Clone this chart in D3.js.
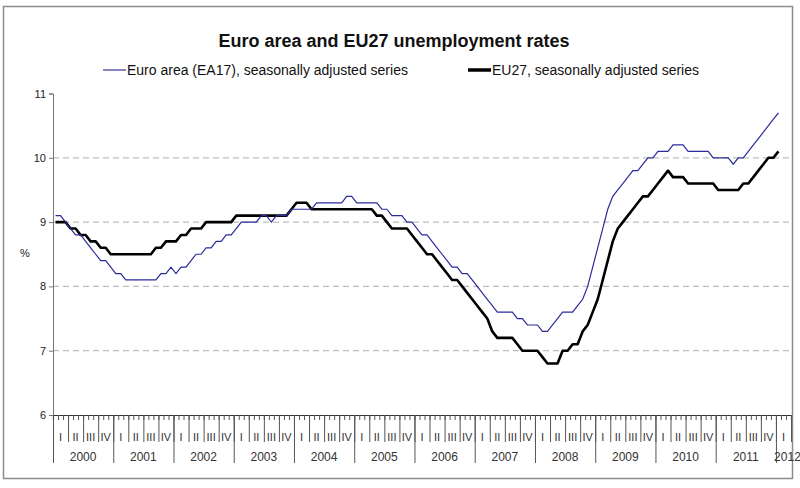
<!DOCTYPE html>
<html>
<head>
<meta charset="utf-8">
<script src="https://cdn.jsdelivr.net/npm/d3@7"></script>
<style>
  body { margin: 0; background: #fff; }
  svg { font-family: "Liberation Sans", Arial, sans-serif; }
</style>
</head>
<body>
<div id="chart"></div>
<script>
// monthly values, Jan 2000 .. Jan 2012
const ea17 = [
  9.1, 9.1, 9.0, 8.9, 8.8, 8.8, 8.7, 8.6, 8.5, 8.4,
  8.4, 8.3, 8.2, 8.2, 8.1, 8.1, 8.1, 8.1, 8.1, 8.1,
  8.1, 8.2, 8.2, 8.3, 8.2, 8.3, 8.3, 8.4, 8.5, 8.5,
  8.6, 8.6, 8.7, 8.7, 8.8, 8.8, 8.9, 9.0, 9.0, 9.0,
  9.0, 9.1, 9.1, 9.0, 9.1, 9.1, 9.1, 9.2, 9.2, 9.2,
  9.2, 9.2, 9.3, 9.3, 9.3, 9.3, 9.3, 9.3, 9.4, 9.4,
  9.3, 9.3, 9.3, 9.3, 9.3, 9.2, 9.2, 9.1, 9.1, 9.1,
  9.0, 9.0, 8.9, 8.8, 8.8, 8.7, 8.6, 8.5, 8.4, 8.3,
  8.3, 8.2, 8.2, 8.1, 8.0, 7.9, 7.8, 7.7, 7.6, 7.6,
  7.6, 7.6, 7.5, 7.5, 7.4, 7.4, 7.4, 7.3, 7.3, 7.4,
  7.5, 7.6, 7.6, 7.6, 7.7, 7.8, 8.0, 8.3, 8.6, 8.9,
  9.2, 9.4, 9.5, 9.6, 9.7, 9.8, 9.8, 9.9, 10.0, 10.0,
  10.1, 10.1, 10.1, 10.2, 10.2, 10.2, 10.1, 10.1, 10.1, 10.1,
  10.1, 10.0, 10.0, 10.0, 10.0, 9.9, 10.0, 10.0, 10.1, 10.2,
  10.3, 10.4, 10.5, 10.6, 10.7
];
const eu27 = [
  9.0, 9.0, 9.0, 8.9, 8.9, 8.8, 8.8, 8.7, 8.7, 8.6,
  8.6, 8.5, 8.5, 8.5, 8.5, 8.5, 8.5, 8.5, 8.5, 8.5,
  8.6, 8.6, 8.7, 8.7, 8.7, 8.8, 8.8, 8.9, 8.9, 8.9,
  9.0, 9.0, 9.0, 9.0, 9.0, 9.0, 9.1, 9.1, 9.1, 9.1,
  9.1, 9.1, 9.1, 9.1, 9.1, 9.1, 9.1, 9.2, 9.3, 9.3,
  9.3, 9.2, 9.2, 9.2, 9.2, 9.2, 9.2, 9.2, 9.2, 9.2,
  9.2, 9.2, 9.2, 9.2, 9.1, 9.1, 9.0, 8.9, 8.9, 8.9,
  8.9, 8.8, 8.7, 8.6, 8.5, 8.5, 8.4, 8.3, 8.2, 8.1,
  8.1, 8.0, 7.9, 7.8, 7.7, 7.6, 7.5, 7.3, 7.2, 7.2,
  7.2, 7.2, 7.1, 7.0, 7.0, 7.0, 7.0, 6.9, 6.8, 6.8,
  6.8, 7.0, 7.0, 7.1, 7.1, 7.3, 7.4, 7.6, 7.8, 8.1,
  8.4, 8.7, 8.9, 9.0, 9.1, 9.2, 9.3, 9.4, 9.4, 9.5,
  9.6, 9.7, 9.8, 9.7, 9.7, 9.7, 9.6, 9.6, 9.6, 9.6,
  9.6, 9.6, 9.5, 9.5, 9.5, 9.5, 9.5, 9.6, 9.6, 9.7,
  9.8, 9.9, 10.0, 10.0, 10.1
];
const years = [2000, 2001, 2002, 2003, 2004, 2005, 2006, 2007, 2008, 2009, 2010, 2011, 2012];
const quarterNames = ['I', 'II', 'III', 'IV'];
const yTicks = [6, 7, 8, 9, 10, 11];
const gridValues = [7, 8, 9, 10];
const seriesNames = ['Euro area (EA17), seasonally adjusted series', 'EU27, seasonally adjusted series'];

const width = 800, height = 488;
const totalMonths = 147; // up to end of 2012 Q1

const svg = d3.select('#chart').append('svg')
  .attr('width', width)
  .attr('height', height);

// frame
svg.append('rect')
  .attr('x', 3.5).attr('y', 6.5)
  .attr('width', 789).attr('height', 472)
  .attr('fill', 'none')
  .attr('stroke', '#8c8c8c')
  .attr('stroke-width', 1.5);

const x = d3.scaleLinear().domain([0, totalMonths]).range([53, 791]);
const y = d3.scaleLinear().domain([6, 11]).range([415, 93.5]);

// title
svg.append('text')
  .attr('x', 394).attr('y', 47)
  .attr('text-anchor', 'middle')
  .style('font-size', '18px')
  .style('font-weight', 'bold')
  .attr('fill', '#111')
  .text('Euro area and EU27 unemployment rates');

// legend
const legend = [
  {name: seriesNames[0], x: 103, color: '#8686bd', w: 2},
  {name: seriesNames[1], x: 468, color: '#000', w: 3.5}
];
legend.forEach(l => {
  svg.append('line')
    .attr('x1', l.x).attr('x2', l.x + 23)
    .attr('y1', 70).attr('y2', 70)
    .attr('stroke', l.color).attr('stroke-width', l.w);
  svg.append('text')
    .attr('x', l.x + 24).attr('y', 75)
    .style('font-size', '14px')
    .attr('fill', '#111')
    .text(l.name);
});

// gridlines
svg.append('g').selectAll('line')
  .data(gridValues).enter().append('line')
  .attr('x1', 53).attr('x2', 791)
  .attr('y1', d => y(d)).attr('y2', d => y(d))
  .attr('stroke', '#bdbdbd')
  .attr('stroke-width', 1.3)
  .attr('stroke-dasharray', '6,4');

// y axis
const yAxis = d3.axisLeft(y).tickValues(yTicks).tickSize(4).tickFormat(d3.format('d'));
const gy = svg.append('g')
  .attr('transform', 'translate(53,0)')
  .call(yAxis);
gy.select('.domain').attr('stroke', '#777');
gy.selectAll('.tick line').attr('stroke', '#777');
gy.selectAll('.tick text')
  .attr('x', -7)
  .style('font-size', '11px')
  .style('font-family', '"Liberation Sans", Arial, sans-serif')
  .attr('fill', '#222');

svg.append('text')
  .attr('x', 25).attr('y', 257)
  .attr('text-anchor', 'middle')
  .style('font-size', '11px')
  .attr('fill', '#222')
  .text('%');

// x axis: month ticks, quarter and year separators
const monthTicks = d3.range(0, totalMonths + 1);
const quarterTicks = d3.range(0, totalMonths + 1, 3);
const yearTicks = d3.range(0, totalMonths, 12);

const gm = svg.append('g')
  .attr('transform', 'translate(0,415)')
  .call(d3.axisBottom(x).tickValues(monthTicks).tickSize(5).tickFormat(''));
gm.select('.domain').attr('stroke', '#333').attr('stroke-width', 1.2);
gm.selectAll('.tick line').attr('stroke', '#555');

const gq = svg.append('g')
  .attr('transform', 'translate(0,415)')
  .call(d3.axisBottom(x).tickValues(quarterTicks).tickSize(27).tickFormat(''));
gq.select('.domain').remove();
gq.selectAll('.tick line').attr('stroke', '#555');

const gyr = svg.append('g')
  .attr('transform', 'translate(0,415)')
  .call(d3.axisBottom(x).tickValues(yearTicks).tickSize(48).tickFormat(''));
gyr.select('.domain').remove();
gyr.selectAll('.tick line').attr('stroke', '#555');

// quarter labels
const quarters = d3.range(0, totalMonths / 3).map(q => ({q: q, label: quarterNames[q % 4]}));
svg.append('g').selectAll('text')
  .data(quarters).enter().append('text')
  .attr('x', d => x(d.q * 3 + 1.5))
  .attr('y', 441)
  .attr('text-anchor', 'middle')
  .style('font-size', '11px')
  .attr('fill', '#333')
  .text(d => d.label);

// year labels
svg.append('g').selectAll('text')
  .data(years).enter().append('text')
  .attr('x', (d, i) => i < years.length - 1 ? x(i * 12 + 6) : x(i * 12 + 1.5) + 4)
  .attr('y', 461)
  .attr('text-anchor', 'middle')
  .style('font-size', '12px')
  .attr('fill', '#333')
  .text(d => d);

// series lines
const line = d3.line()
  .x((d, i) => x(i + 0.5))
  .y(d => y(d));

svg.append('path')
  .datum(eu27)
  .attr('fill', 'none')
  .attr('stroke', '#000')
  .attr('stroke-width', 2.6)
  .attr('stroke-linejoin', 'round')
  .attr('d', line);

svg.append('path')
  .datum(ea17)
  .attr('fill', 'none')
  .attr('stroke', '#2b2b9c')
  .attr('stroke-width', 1.2)
  .attr('d', line);
</script>
</body>
</html>
